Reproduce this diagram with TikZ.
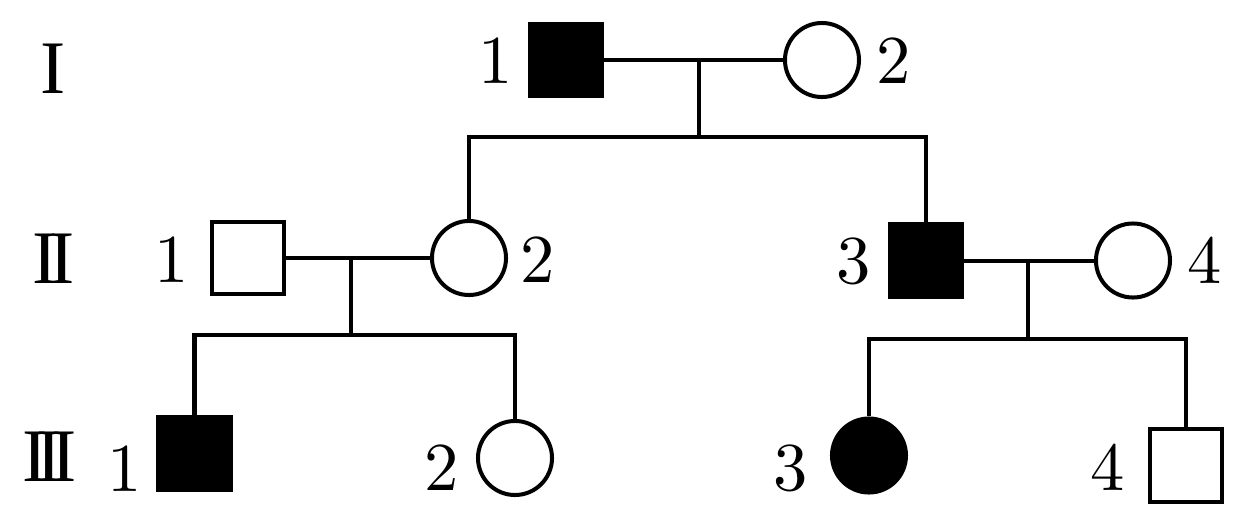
\documentclass[tikz,border=0pt]{standalone}
\usepackage{fontspec}
\newfontfamily\romanfont{Liberation Serif}
\IfFontExistsTF{lmroman10-regular.otf}{\newfontfamily\digitfont{lmroman10-regular.otf}}{\let\digitfont\relax}
\begin{document}
\begin{tikzpicture}[x=0.01cm,y=-0.01cm,
  line width=0.04cm,
  male/.style={draw, rectangle, minimum size=0.72cm, inner sep=0pt},
  female/.style={draw, circle, minimum size=0.74cm, inner sep=0pt},
  affected/.style={fill=black},
  lbl/.style={anchor=base, inner sep=0pt, font=\digitfont\fontsize{19.5}{20}\selectfont},
  gen/.style={anchor=base, inner sep=0pt, font=\romanfont\fontsize{21.5}{22}\selectfont}
]
\useasboundingbox (0,0) rectangle (1241,530);

% generation labels
\node[gen] (gI) at (53,93) {I};
\node[gen] (gII) at (53.5,283) {I\kern-0.11em I};
\node[gen] (gIII) at (49.5,481.7) {I\kern-0.143em I\kern-0.143em I};

% individuals
\node[male,affected] (I1) at (566,60) {};
\node[female] (I2) at (822,60) {};
\node[male] (II1) at (248,258) {};
\node[female] (II2) at (469,258) {};
\node[male,affected] (II3) at (926,260.5) {};
\node[female] (II4) at (1133,260.5) {};
\node[male,affected] (III1) at (194.5,453.5) {};
\node[female] (III2) at (515,458) {};
\node[female,affected] (III3) at (869,455.5) {};
\node[male] (III4) at (1186,465.5) {};

% number labels
\node[lbl] (lI1) at (496,83) {1};
\node[lbl] (lI2) at (894,83) {2};
\node[lbl] (lII1) at (172,282) {1};
\node[lbl] (lII2) at (537.5,282) {2};
\node[lbl] (lII3) at (854,283) {3};
\node[lbl] (lII4) at (1205,283) {4};
\node[lbl] (lIII1) at (125,491) {1};
\node[lbl] (lIII2) at (442,490) {2};
\node[lbl] (lIII3) at (791,490) {3};
\node[lbl] (lIII4) at (1108,490) {4};

% junctions
\coordinate (m1) at (699,60);
\coordinate (s1) at (699,137);
\coordinate (m2) at (351,258);
\coordinate (s2) at (351,335);
\coordinate (m3) at (1028,260.5);
\coordinate (s3) at (1028,339);

% generation I family
\draw (I1.east) -- (I2.west);
\draw (m1) -- (s1);
\draw (II2.north) -- (II2.north |- s1) -- (II3.north |- s1) -- (II3.north);

% II-1 x II-2 family
\draw (II1.east) -- (II2.west);
\draw (m2) -- (s2);
\draw (III1.north) -- (III1.north |- s2) -- (III2.north |- s2) -- (III2.north);

% II-3 x II-4 family
\draw (II3.east) -- (II4.west);
\draw (m3) -- (s3);
\draw (III3.north) -- (III3.north |- s3) -- (III4.north |- s3) -- (III4.north);
\end{tikzpicture}
\end{document}
